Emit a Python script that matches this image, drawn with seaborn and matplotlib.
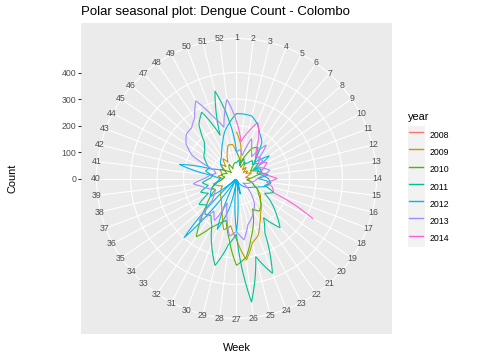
import numpy as np
import pandas as pd
import matplotlib
matplotlib.use('Agg')
import matplotlib.pyplot as plt
from matplotlib.patches import Rectangle
from matplotlib.lines import Line2D
import seaborn as sns

plt.rcParams['font.family'] = ['Liberation Sans', 'DejaVu Sans']

# weekly dengue counts, Colombo
years = ['2008', '2009', '2010', '2011', '2012', '2013', '2014']
weeks = list(range(1, 53))
week_labels = [str(w) for w in weeks]

y2008 = {52: 150}
y2009 = [175, 130, 60, 45, 70, 40, 55, 35, 50, 40, 60, 45, 35, 50, 40, 60, 70, 90,
         110, 120, 140, 160, 190, 230, 250, 310, 230, 180, 200, 150, 120, 100, 90,
         80, 70, 60, 75, 90, 60, 50, 70, 55, 60, 70, 50, 80, 60, 90, 70, 100, 130, 130]
y2010 = [100, 80, 60, 90, 130, 143, 110, 90, 70, 60, 80, 100, 70, 50, 40, 60, 70, 90,
         100, 120, 140, 150, 130, 180, 230, 300, 328, 230, 163, 180, 210, 267, 200,
         150, 120, 90, 100, 80, 60, 50, 45, 60, 50, 40, 55, 40, 30, 50, 60, 40, 50, 60]
y2011 = [60, 70, 50, 80, 60, 70, 90, 80, 100, 70, 90, 80, 100, 120, 130, 110, 150, 120,
         160, 200, 248, 180, 230, 383, 304, 470, 210, 251, 338, 265, 200, 170, 180,
         150, 172, 120, 145, 110, 130, 100, 90, 120, 110, 130, 150, 160, 183, 250, 283,
         175, 340, 214]
y2012 = [245, 245, 243, 221, 190, 169, 120, 90, 150, 80, 100, 90, 120, 80, 131, 119, 90,
         70, 60, 50, 40, 30, 20, 10, 60, 5, 200, 5, 120, 205, 5, 5, 299, 5, 120, 110, 100,
         80, 70, 60, 90, 222, 100, 70, 60, 80, 90, 100, 120, 147, 184, 213]
y2013 = [100, 110, 90, 160, 120, 100, 169, 110, 120, 90, 110, 130, 100, 80, 70, 60, 50,
         40, 30, 60, 90, 120, 140, 160, 180, 233, 200, 219, 150, 100, 179, 150, 213, 120,
         100, 90, 110, 130, 164, 120, 100, 80, 90, 190, 232, 253, 256, 278, 331, 250, 199, 301]
y2014 = [215, 140, 180, 226, 181, 130, 110, 120, 100, 130, 110, 90, 110, 153, 115, 140,
         150, 325]

colors = ['#F8766D', '#C49A00', '#53B400', '#00C094', '#00B6EB', '#A58AFF', '#FB61D7']

series = {'2009': y2009, '2010': y2010, '2011': y2011,
          '2012': y2012, '2013': y2013, '2014': y2014}

rows = []
for w, v in y2008.items():
    rows.append(('2008', w, v))
for yr in years[1:]:
    vals = series[yr]
    for w, v in zip(weeks, vals):
        rows.append((yr, w, v))
    # polar seasonal plot: each year joins the first week of the next one
    nxt = series.get(str(int(yr) + 1))
    if nxt is not None and len(vals) == 52:
        rows.append((yr, 53, nxt[0]))
df = pd.DataFrame(rows, columns=['year', 'week', 'count'])
df['theta'] = (df['week'] - 1) / 52 * 2 * np.pi

W, H = 504, 360
fig = plt.figure(figsize=(W / 72, H / 72), dpi=72)

# panel geometry (pixels, from top-left)
px0, py0, side = 81, 23, 311
cx, cy = px0 + side / 2, py0 + side / 2
r_out = 0.45 * side
rmax = df['count'].max()
r_top = rmax * 0.45 / 0.4
half = side / 2

ax_bg = fig.add_axes([px0 / W, (H - py0 - side) / H, side / W, side / H])
ax_bg.set_facecolor('#EBEBEB')
for s in ax_bg.spines.values():
    s.set_visible(False)
ax_bg.set_xticks([])
ax_bg.set_ylim(-r_top * half / r_out, r_top * half / r_out)
ax_bg.set_yticks([0, 100, 200, 300, 400])
ax_bg.tick_params(axis='y', length=2.74, width=1.07, color='#333333',
                  labelcolor='#4D4D4D', labelsize=8.8, pad=2.2)

ax = fig.add_axes([(cx - r_out) / W, (H - cy - r_out) / H, 2 * r_out / W, 2 * r_out / H],
                  projection='polar')
ax.set_facecolor('none')
ax.set_theta_zero_location('N')
ax.set_theta_direction(-1)
ax.set_axisbelow(True)

sns.lineplot(data=df, x='theta', y='count', hue='year', hue_order=years,
             palette=colors, estimator=None, linewidth=1.1, ax=ax, legend=False)
for line in ax.lines:
    line.get_path()._interpolation_steps = 12

ax.set_ylim(0, r_top)
ax.set_xticks([(w - 1) / 52 * 2 * np.pi for w in weeks])
ax.set_xticklabels([])
ax.set_yticks([100, 200, 300, 400])
ax.set_yticklabels([])
ax.tick_params(length=0)
ax.grid(True, color='white', linewidth=1.07)
ax.spines['polar'].set_color('white')
ax.spines['polar'].set_linewidth(1.07)
ax.set_xlabel('')
ax.set_ylabel('')

for w, lab in zip(weeks, week_labels):
    ax.text((w - 1) / 52 * 2 * np.pi, r_top * 1.005, lab, ha='center', va='center',
            fontsize=8.8, color='#4D4D4D')

fig.text(px0 / W, 1 - 12 / H, 'Polar seasonal plot: Dengue Count - Colombo',
         fontsize=13.2, ha='left', va='center', color='black')
fig.text(cx / W, 1 - 348 / H, 'Week', fontsize=11, ha='center', va='center')
fig.text(12 / W, 1 - cy / H, 'Count', fontsize=11, ha='center', va='center',
         rotation=90)

# legend
key_h = 17.28
key_x, key_top = 407.7, 126.4
fig.add_artist(Rectangle((key_x / W, (H - key_top - 7 * key_h) / H), key_h / W,
                         7 * key_h / H, transform=fig.transFigure,
                         facecolor='#F2F2F2', edgecolor='none', zorder=1))
fig.text(key_x / W, 1 - 117 / H, 'year', fontsize=11, ha='left', va='center')
handles = [Line2D([], [], color=c, linewidth=1.4) for c in colors]
# matplotlib shrinks the row by a descent term: pick handleheight so a row is 17.28 px
hh = (key_h / 8.8 - 0.245) / 0.65
leg = fig.legend(handles, years, loc='upper left',
                 bbox_to_anchor=((key_x + 1.7) / W, 1 - key_top / H),
                 frameon=False, fontsize=8.8, handlelength=13.8 / 8.8,
                 handleheight=hh, labelspacing=0, handletextpad=0.75,
                 borderpad=0, borderaxespad=0)
leg.set_zorder(2)

fig.savefig('out.png', dpi=72, facecolor='white')
